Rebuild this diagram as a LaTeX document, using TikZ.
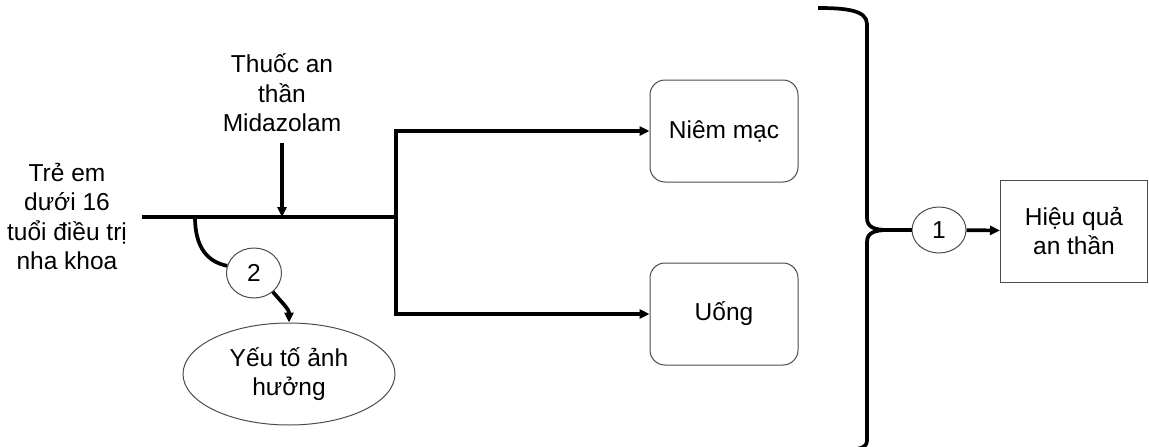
\documentclass[tikz,border=0pt]{standalone}
\usepackage{fontspec}
\setmainfont{Liberation Sans}
\usetikzlibrary{arrows.meta,shapes.geometric}
\begin{document}
\begin{tikzpicture}[x=1pt,y=-1pt,
  thickline/.style={line width=3.7pt, black},
  arr/.style={thickline, -{Triangle[length=10pt,width=9pt]}},
  txt/.style={font=\fontsize{24.5}{29.5}\selectfont, align=center},
  lbl/.style={txt, inner sep=0pt},
  rbox/.style={txt, draw=black!70, line width=1pt, rounded corners=15pt,
    minimum width=148pt, minimum height=102pt, inner sep=2pt},
  sbox/.style={txt, draw=black!70, line width=1pt,
    minimum width=147pt, minimum height=102pt, inner sep=2pt},
  oval/.style={txt, ellipse, draw=black!70, line width=1pt, inner sep=0pt}]
\useasboundingbox (0,0) rectangle (1149,447);

% nodes
\node[lbl, anchor=south] (child) at (67,270) {Trẻ em\\dưới 16\\tuổi điều trị\\nha khoa};
\node[lbl, anchor=south] (med) at (282,132) {Thuốc an\\thần\\Midazolam};
\node[rbox] (nm) at (724,131) {Niêm mạc};
\node[rbox] (uo) at (724,314) {Uống};
\node[oval, minimum width=55pt, minimum height=50pt] (c2) at (254,273) {2};
\node[oval, minimum width=212pt, minimum height=102pt] (ye) at (289,374) {Yếu tố ảnh\\hưởng};
\node[oval, minimum width=54pt, minimum height=46pt] (c1) at (939,230) {1};
\node[sbox] (hq) at (1074,231) {Hiệu quả\\an thần};

% coordinates
\coordinate (s) at (142,217);
\coordinate (j) at (396,217);
\coordinate (mt) at (282,217);
\coordinate (b2) at (195,217);
\coordinate (cusp) at (888,230);
\coordinate (btop) at (818,8);
\coordinate (bbot) at (840,450);

% connectors
\draw[thickline] (s) -- (j);
\draw[arr] (med.south) ++(0,11) -- (mt);
\draw[arr] (j) |- (nm);
\draw[arr] (j) |- (uo);
\draw[thickline] (b2) .. controls (195,248) and (208,262) .. (c2.165);
\draw[arr] (c2.-45) to[out=-50,in=90] (ye.north);

% brace
\draw[thickline, line join=round] (btop) .. controls (845,8) and (867,10) .. (867,24)
  -- (867,218) .. controls (867,227) and (874,230) .. (cusp)
  .. controls (874,230) and (867,233) .. (867,242)
  -- (867,440) .. controls (867,447) and (862,450) .. (bbot);
\draw[thickline] (cusp) -- (c1.west);
\draw[arr] (c1) -- (hq);
\end{tikzpicture}
\end{document}
